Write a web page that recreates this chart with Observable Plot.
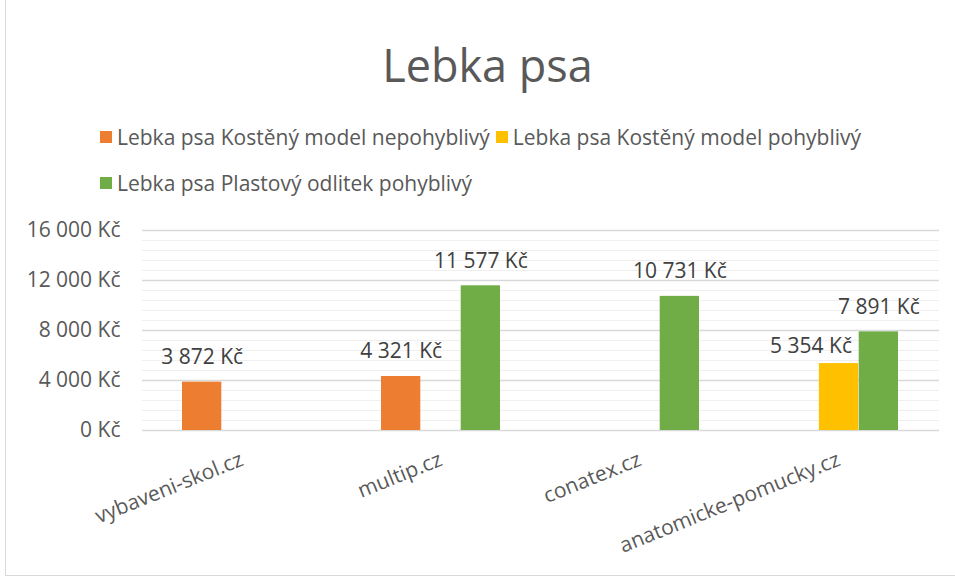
<!DOCTYPE html>
<html>
<head>
<meta charset="utf-8">
<script src="https://cdn.jsdelivr.net/npm/d3@7"></script>
<script src="https://cdn.jsdelivr.net/npm/@observablehq/plot@0.6"></script>
<style>
  html, body { margin: 0; padding: 0; background: #fff; }
  #wrap { position: relative; width: 955px; height: 579px; overflow: hidden; font-family: "Open Sans", sans-serif; color: #595959; }
  #frame { position: absolute; left: 5px; top: -2px; width: 960px; height: 578px; border: 1px solid #d9d9d9; box-sizing: border-box; }
  #title { position: absolute; left: 20px; width: 935px; top: 36px; text-align: center; font-size: 45px; line-height: 58px; }
  #legend { position: absolute; left: 100px; top: 122px; width: 775px; display: flex; flex-wrap: wrap; column-gap: 6px; row-gap: 16px; font-size: 21px; line-height: 30px; }
  .item { display: flex; align-items: center; white-space: nowrap; }
  .sw { width: 12px; height: 12px; margin-right: 5px; }
  #chart { position: absolute; left: 0; top: 205px; }
</style>
</head>
<body>
<div id="wrap">
  <div id="frame"></div>
  <div id="title"></div>
  <div id="legend"></div>
  <div id="chart"></div>
</div>
<script>
const titleText = "Lebka psa";
const categories = ["vybaveni-skol.cz", "multip.cz", "conatex.cz", "anatomicke-pomucky.cz"];
const seriesNames = ["Lebka psa Kostěný model nepohyblivý", "Lebka psa Kostěný model pohyblivý", "Lebka psa Plastový odlitek pohyblivý"];
const kostenyNepohyblivy = [3872, 4321, null, null];
const kostenyPohyblivy = [null, null, null, 5354];
const plastovyPohyblivy = [null, 11577, 10731, 7891];
const colors = ["#ED7D31", "#FFC000", "#70AD47"];
const yTicks = [0, 4000, 8000, 12000, 16000];
const yMax = 16000;
const minorStep = 800;

const seriesValues = [kostenyNepohyblivy, kostenyPohyblivy, plastovyPohyblivy];
const rows = [];
seriesValues.forEach((vals, s) => vals.forEach((v, i) => {
  if (v != null) rows.push({category: categories[i], series: s, value: v});
}));

const fmtNum = d3.format(",");
const kc = d => fmtNum(d).replace(/,/g, " ") + " Kč";

document.getElementById("title").textContent = titleText;
const legend = document.getElementById("legend");
seriesNames.forEach((name, i) => {
  const it = document.createElement("div");
  it.className = "item";
  it.innerHTML = `<span class="sw" style="background:${colors[i]}"></span><span>${name}</span>`;
  legend.appendChild(it);
});

const W = 955, H = 374, mL = 142, mR = 16, mT = 25, mB = 149;
const padInner = 0.4, padOuter = 0.2;
const step = (W - mL - mR) / (categories.length - padInner + 2 * padOuter);
const bw = step * (1 - padInner);
const sub = bw / seriesNames.length;

const minor = d3.range(0, yMax + 1, minorStep).filter(v => !yTicks.includes(v));

// labels: shift left when the neighbour on the right is taller (avoid overlap)
function shifted(r) {
  const next = rows.find(o => o.category === r.category && o.series === r.series + 1);
  return next && next.value > r.value;
}

const marks = [
  Plot.ruleY(minor, {stroke: "#efefef", strokeWidth: 1.2}),
  Plot.ruleY(yTicks, {stroke: "#d9d9d9", strokeWidth: 1.5}),
];
seriesNames.forEach((name, s) => {
  const data = rows.filter(r => r.series === s);
  marks.push(Plot.barY(data, {
    x: "category", y: "value", fill: colors[s],
    insetLeft: s * sub, insetRight: (seriesNames.length - 1 - s) * sub
  }));
  const off = (s - (seriesNames.length - 1) / 2) * sub;
  marks.push(Plot.text(data.filter(r => !shifted(r)), {
    x: "category", y: "value", text: d => kc(d.value), dx: off, dy: -18,
    lineAnchor: "bottom", fontSize: 21, fill: "#404040"
  }));
  marks.push(Plot.text(data.filter(r => shifted(r)), {
    x: "category", y: "value", text: d => kc(d.value), dx: off - 28, dy: -11,
    lineAnchor: "bottom", fontSize: 21, fill: "#404040"
  }));
});

const chart = Plot.plot({
  width: W, height: H,
  marginLeft: mL, marginRight: mR, marginTop: mT, marginBottom: mB,
  style: {fontFamily: "'Open Sans', sans-serif", fontSize: "21px", color: "#595959", background: "transparent", overflow: "visible"},
  x: {domain: categories, paddingInner: padInner, paddingOuter: padOuter, tickSize: 0, tickPadding: 28, tickRotate: -22, label: null},
  y: {domain: [0, yMax], ticks: yTicks, tickFormat: kc, tickSize: 0, tickPadding: 22, label: null},
  marks
});
document.getElementById("chart").appendChild(chart);
</script>
</body>
</html>
